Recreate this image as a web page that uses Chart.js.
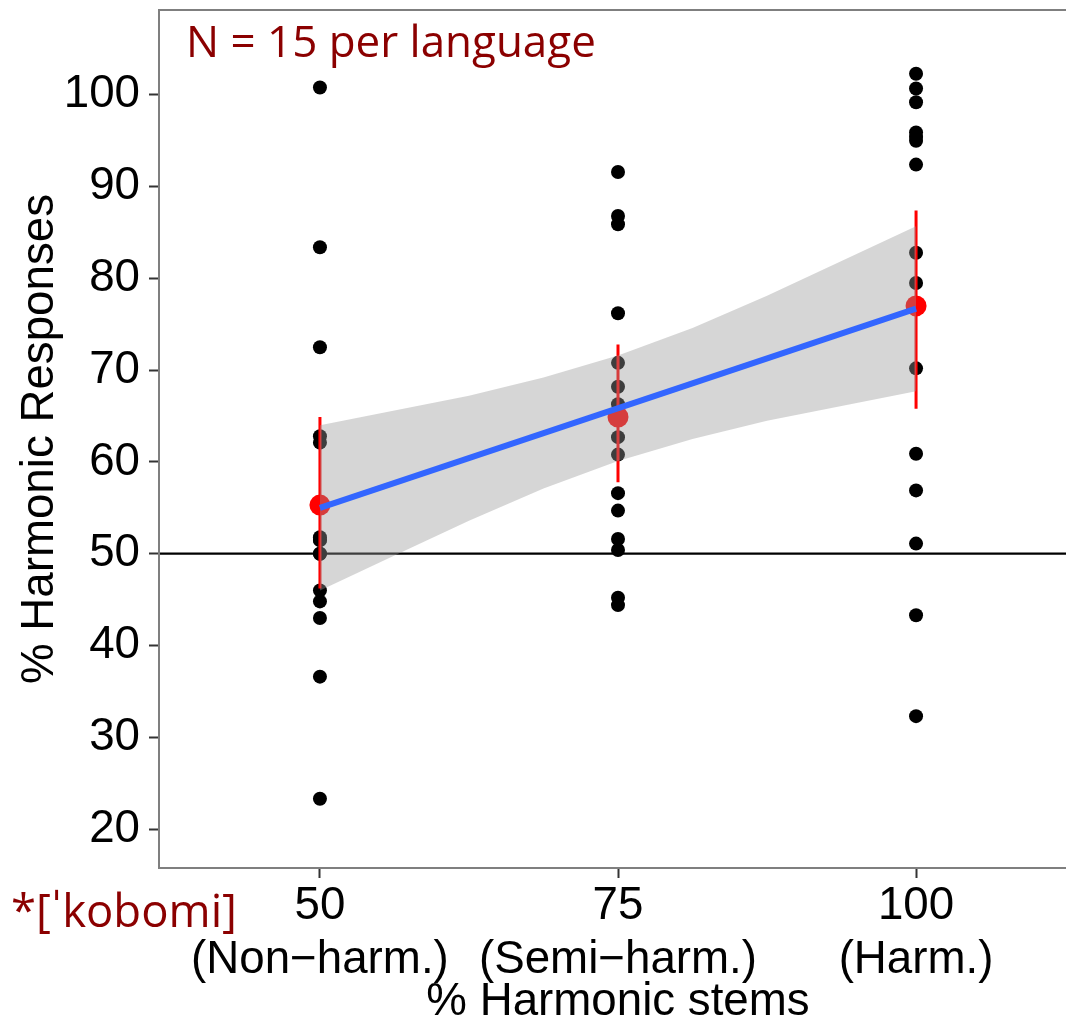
<!DOCTYPE html>
<html><head><meta charset="utf-8">
<script src="https://cdn.jsdelivr.net/npm/chart.js@4/dist/chart.umd.min.js"></script>
<style>html,body{margin:0;padding:0;overflow:hidden;background:#fff}canvas{display:block}</style>
</head><body>
<canvas id="c" width="1080" height="1021" style="width:1080px;height:1021px"></canvas>
<script>
// ---- data ----
const categories = [50, 75, 100];
const categoryLabels = [["50", "(Non−harm.)"], ["75", "(Semi−harm.)"], ["100", "(Harm.)"]];
const responsesNonHarm = [100.8, 83.4, 72.5, 62.8, 62.1, 51.8, 51.5, 51.5, 50.0, 50.0, 46.0, 44.8, 43.0, 36.6, 23.3];
const responsesSemiHarm = [91.6, 86.8, 85.9, 76.2, 70.8, 68.2, 66.3, 62.7, 60.8, 56.6, 54.7, 51.6, 50.4, 45.2, 44.4];
const responsesHarm = [102.3, 100.7, 99.2, 95.9, 95.4, 95.0, 92.4, 82.8, 79.5, 70.2, 60.9, 56.9, 51.1, 43.3, 32.3];
const meanResponses = [55.3, 64.9, 77.0];
const errorLow = [46.2, 57.8, 65.8];
const errorHigh = [64.9, 72.8, 87.4];
const fitX = [50, 100];
const fitY = [55.0, 76.7];
const bandX = [50, 56.25, 62.5, 68.75, 75, 81.25, 87.5, 93.75, 100];
const bandUpper = [64.0, 65.6, 67.2, 69.2, 71.6, 74.6, 78.1, 81.9, 85.7];
const bandLower = [46.0, 49.8, 53.6, 57.1, 60.1, 62.5, 64.5, 66.1, 67.7];
const yTicks = [20, 30, 40, 50, 60, 70, 80, 90, 100];
const xLimits = [36.5, 113.5];
const yLimits = [15.75, 109.25];
const referenceLine = 50;
const annotationText = "N = 15 per language";
const itemText = "*[ˈkobomi]";
const xTitle = "% Harmonic stems";
const yTitle = "% Harmonic Responses";

// ---- build datasets ----
const responseGroups = [responsesNonHarm, responsesSemiHarm, responsesHarm];
const responsePoints = [];
responseGroups.forEach((g, i) => g.forEach(v => responsePoints.push({x: categories[i], y: v})));
const meanPoints = categories.map((c, i) => ({x: c, y: meanResponses[i]}));
const errorPoints = [];
categories.forEach((c, i) => {
  errorPoints.push({x: c, y: errorLow[i]}, {x: c, y: errorHigh[i]}, {x: c, y: null});
});
const fitPoints = fitX.map((x, i) => ({x, y: fitY[i]}));
const upperPoints = bandX.map((x, i) => ({x, y: bandUpper[i]}));
const lowerPoints = bandX.map((x, i) => ({x, y: bandLower[i]}));

const TICK_FONT = {family: "'Liberation Sans', Arial, sans-serif", size: 45.7, lineHeight: 1.17};
const DARKRED = '#8b0000';

const decor = {
  id: 'decor',
  beforeDatasetsDraw(chart) {
    const {ctx, chartArea: a, scales: {y}} = chart;
    const py = y.getPixelForValue(referenceLine);
    ctx.save();
    ctx.strokeStyle = '#000'; ctx.lineWidth = 2.2;
    ctx.beginPath(); ctx.moveTo(a.left, py); ctx.lineTo(a.right, py); ctx.stroke();
    ctx.restore();
  },
  afterDatasetsDraw(chart) {
    const {ctx, chartArea: a} = chart;
    ctx.save();
    ctx.strokeStyle = '#7f7f7f'; ctx.lineWidth = 2;
    ctx.strokeRect(a.left, a.top, a.right - a.left, a.bottom - a.top);
    ctx.restore();
  },
  afterDraw(chart) {
    const {ctx} = chart;
    ctx.save();
    ctx.fillStyle = DARKRED;
    ctx.textBaseline = 'alphabetic';
    ctx.textAlign = 'left';
    const fam = "'Open Sans', Lato, sans-serif";
    ctx.font = `100px ${fam}`;
    const s1 = 100 * 410 / ctx.measureText(annotationText).width;
    ctx.font = `${s1}px ${fam}`;
    ctx.fillText(annotationText, 186, 57);
    ctx.font = `100px ${fam}`;
    const s2 = 100 * 226 / ctx.measureText(itemText).width;
    ctx.font = `${s2}px ${fam}`;
    ctx.fillText(itemText, 11, 927);
    ctx.restore();
  }
};

new Chart(document.getElementById('c'), {
  type: 'scatter',
  data: {datasets: [
    {type: 'line', label: 'fit', data: fitPoints, borderColor: '#3366FF', borderWidth: 6, pointRadius: 0, fill: false, order: 1, borderCapStyle: 'butt'},
    {type: 'line', label: 'band upper', data: upperPoints, borderColor: 'rgba(0,0,0,0)', borderWidth: 1, pointRadius: 0, fill: '+1', backgroundColor: 'rgba(153,153,153,0.4)', order: 2},
    {type: 'line', label: 'band lower', data: lowerPoints, borderColor: 'rgba(0,0,0,0)', borderWidth: 1, pointRadius: 0, fill: false, order: 2},
    {type: 'scatter', label: 'means', data: meanPoints, pointRadius: 10.5, backgroundColor: '#ff0000', borderWidth: 0, pointBorderWidth: 0, order: 3},
    {type: 'line', label: 'error bars', data: errorPoints, borderColor: '#ff0000', borderWidth: 3, pointRadius: 0, spanGaps: false, fill: false, order: 4},
    {type: 'scatter', label: 'responses', data: responsePoints, pointRadius: 7, backgroundColor: '#000', borderWidth: 0, pointBorderWidth: 0, order: 5}
  ]},
  options: {
    responsive: false,
    animation: false,
    events: [],
    layout: {autoPadding: false, padding: {left: 0, top: 10, right: 3, bottom: 0}},
    plugins: {legend: {display: false}, tooltip: {enabled: false}},
    scales: {
      x: {
        type: 'linear', min: xLimits[0], max: xLimits[1],
        afterBuildTicks: s => { s.ticks = categories.map(v => ({value: v})); },
        afterFit: s => { s.height = 153; s.paddingLeft = 0; s.paddingRight = 0; s.paddingTop = 0; s.paddingBottom = 0; },
        ticks: {callback: v => categoryLabels[categories.indexOf(v)], color: '#000', font: TICK_FONT, padding: 2, maxRotation: 0, autoSkip: false},
        grid: {display: true, drawOnChartArea: false, drawTicks: true, tickLength: 10, tickColor: '#333', tickWidth: 2},
        border: {display: false},
        title: {display: true, text: xTitle, color: '#000', font: {family: TICK_FONT.family, size: 45.7, lineHeight: 0.8}, padding: {top: 0, bottom: 0}}
      },
      y: {
        type: 'linear', min: yLimits[0], max: yLimits[1],
        afterBuildTicks: s => { s.ticks = yTicks.map(v => ({value: v})); },
        afterFit: s => { s.width = 159; s.paddingLeft = 0; s.paddingRight = 0; s.paddingTop = 0; s.paddingBottom = 0; },
        ticks: {color: '#000', font: {family: TICK_FONT.family, size: 45.7}, padding: 9},
        grid: {display: true, drawOnChartArea: false, drawTicks: true, tickLength: 10, tickColor: '#333', tickWidth: 2},
        border: {display: false},
        title: {display: true, text: yTitle, color: '#000', font: {family: TICK_FONT.family, size: 45.7, lineHeight: 1}, padding: {top: 18, bottom: 0}}
      }
    }
  },
  plugins: [decor]
});
</script>
</body></html>
